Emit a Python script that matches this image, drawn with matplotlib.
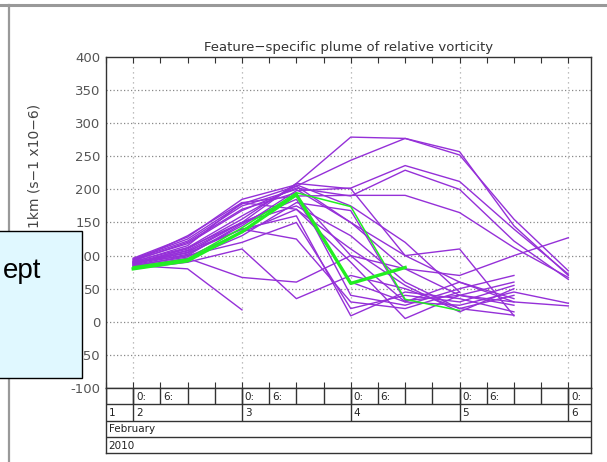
import numpy as np
import matplotlib
matplotlib.use("Agg")
import matplotlib.pyplot as plt
from matplotlib.patches import Rectangle

nan = np.nan

# forecast times, hours from 2 Feb 2010 00Z (12-hourly)
hours = [0, 12, 24, 36, 48, 60, 72, 84, 96]

# ensemble members (purple)
members = [
    [88, 105, 150, 209, 279, 277, 257, 145, 70],
    [91, 112, 160, 205, 244, 277, 252, 155, 77],
    [86, 102, 145, 198, 202, 236, 212, 140, 72],
    [93, 118, 168, 202, 190, 229, 200, 122, 64],
    [84, 100, 148, 190, 191, 191, 165, 112, 67],
    [89, 110, 155, 209, 201, 100, 110, 9, nan],
    [95, 125, 178, 205, 150, 80, 70, 100, 127],
    [82, 95, 130, 180, 168, 32, 40, 30, 24],
    [87, 108, 150, 185, 60, 30, 25, 45, 28],
    [90, 100, 120, 150, 20, 40, 30, 55, nan],
    [80, 90, 110, 35, 70, 50, 20, 40, nan],
    [85, 80, 18, nan, nan, nan, nan, nan, nan],
    [92, 120, 170, 195, 40, 25, 50, 70, nan],
    [88, 104, 140, 160, 9, 45, 35, 15, nan],
    [94, 122, 175, 200, 150, 100, 60, 30, nan],
    [83, 96, 67, 60, 100, 80, 40, 25, nan],
    [90, 115, 180, 170, 90, 5, 40, 60, nan],
    [86, 112, 150, 175, 130, 60, 20, 10, nan],
    [91, 130, 180, 190, 100, 30, 60, 35, nan],
    [89, 107, 140, 125, 30, 20, 45, nan, nan],
    [96, 128, 185, 207, 175, 120, 45, nan, nan],
    [85, 98, 135, 170, 110, 55, 15, 50, nan],
]

# control / analysis tracks (green)
green_thick = [80, 92, 136, 192, 58, 82, nan, nan, nan]
green_thin = [83, 95, 142, 195, 174, 34, 17, nan, nan]

yticks = [-100, -50, 0, 50, 100, 150, 200, 250, 300, 350, 400]
day_labels = ["2", "3", "4", "5", "6"]
day_hours = [0, 24, 48, 72, 96]

W, H = 607, 462
fig = plt.figure(figsize=(W / 100, H / 100), dpi=100)
fig.patch.set_facecolor("white")

# slide frame lines
fig.add_artist(plt.Line2D([0, 1], [1 - 5 / H, 1 - 5 / H], color="#999999", lw=2.2))
fig.add_artist(plt.Line2D([9 / W, 9 / W], [0, 1 - 5 / H], color="#999999", lw=1.6))

x0, x1 = -6, 101
left, right, top, bottom = 106, 591, 57, 388
ax = fig.add_axes([left / W, 1 - bottom / H, (right - left) / W, (bottom - top) / H])

for m in members:
    ax.plot(hours, m, color="#9530d8", lw=1.0)
ax.plot(hours, green_thin, color="#22ee22", lw=1.1)
ax.plot(hours, green_thick, color="#22ee22", lw=2.4)

ax.set_xlim(x0, x1)
ax.set_ylim(-100, 400)
ax.set_yticks(yticks)
ax.set_yticklabels([str(v) for v in yticks], fontsize=9.5, color="#555555")
ax.tick_params(axis="y", length=0, pad=4)
ax.set_xticks(range(-6, 102, 6))
ax.set_xticklabels([])
ax.tick_params(axis="x", direction="in", length=4, top=True, color="#333333")
for v in yticks[1:-1]:
    ax.axhline(v, color="#888888", lw=0.9, ls=(0, (1, 1.8)), zorder=0)
for d in day_hours:
    ax.axvline(d, color="#aaaaaa", lw=0.9, ls=(0, (1, 3)), zorder=0)
for s in ax.spines.values():
    s.set_color("#333333")
    s.set_linewidth(1.0)

ax.set_title("Feature\u2212specific plume of relative vorticity", fontsize=9.5,
             color="#333333", pad=4)

# time axis bands below the plot
bax = fig.add_axes([left / W, 1 - 453 / H, (right - left) / W, (453 - bottom) / H])
bax.set_xlim(x0, x1)
bax.set_ylim(4, 0)
bax.set_xticks([])
bax.set_yticks([])
for s in bax.spines.values():
    s.set_color("#333333")
    s.set_linewidth(1.0)
for r in [1, 2, 3]:
    bax.axhline(r, color="#333333", lw=1.0)
for h in range(-6, 102, 6):
    bax.vlines(h, 0, 1, color="#333333", lw=1.0)
for d in day_hours:
    bax.vlines(d, 0, 2, color="#333333", lw=1.0)
    bax.text(d + 0.6, 0.55, "0:", fontsize=7.5, va="center", ha="left", color="#222222")
    if d + 6 < x1:
        bax.text(d + 6.6, 0.55, "6:", fontsize=7.5, va="center", ha="left", color="#222222")
bax.text(x0 + 0.6, 1.55, "1", fontsize=7.5, va="center", ha="left", color="#222222")
for d, lab in zip(day_hours, day_labels):
    bax.text(d + 0.6, 1.55, lab, fontsize=7.5, va="center", ha="left", color="#222222")
bax.text(x0 + 0.6, 2.55, "February", fontsize=7.5, va="center", ha="left", color="#222222")
bax.text(x0 + 0.6, 3.55, "2010", fontsize=7.5, va="center", ha="left", color="#222222")

# y label (lower part hidden under the callout box)
fig.text(35 / W, 1 - 228 / H, "1km (s\u22121 x10\u22126)", rotation=90, ha="center",
         va="bottom", fontsize=10, color="#444444")

# overlapping callout box from the slide
fig.add_artist(Rectangle((-2 / W, 1 - 378 / H), 84 / W, 147 / H, transform=fig.transFigure,
                         facecolor="#e0f8ff", edgecolor="black", lw=1.0, zorder=10))
fig.text(3 / W, 1 - 278 / H, "ept", ha="left", va="baseline", fontsize=20,
         family="Liberation Sans", color="black", zorder=11)

fig.savefig("out.png", dpi=100)
